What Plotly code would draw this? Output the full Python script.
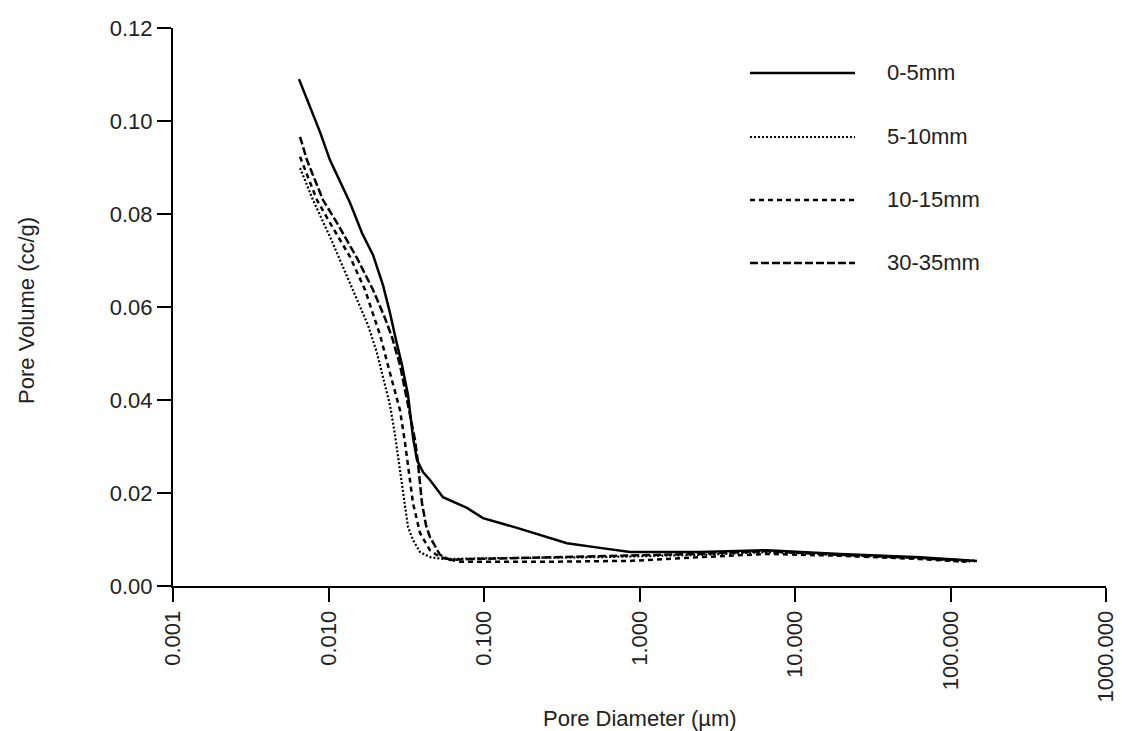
import plotly.graph_objects as go

# ---- data (pore diameter in µm, pore volume in cc/g) ----
d_0_5 = [0.00646, 0.00882, 0.01022, 0.01375, 0.01642, 0.01933, 0.02241, 0.02486, 0.02717, 0.02970,
         0.03245, 0.03495, 0.03708, 0.04053, 0.04494, 0.05448, 0.0777, 0.0985, 0.163, 0.2657,
         0.3418, 0.557, 0.869, 2.449, 6.60, 19.5, 63.7, 148]
v_0_5 = [0.1090, 0.0976, 0.0916, 0.0824, 0.0759, 0.0712, 0.0647, 0.0587, 0.0529, 0.0475,
         0.0411, 0.0320, 0.0271, 0.0245, 0.0228, 0.0191, 0.0168, 0.0146, 0.0125, 0.0103,
         0.0092, 0.0082, 0.0073, 0.0073, 0.0077, 0.0069, 0.0062, 0.0054]

d_5_10 = [0.00656, 0.00795, 0.01022, 0.01239, 0.01526, 0.01795, 0.02050, 0.02275, 0.02486, 0.02677,
          0.02798, 0.02970, 0.03245, 0.03495, 0.03877, 0.04494, 0.05613, 0.1267, 0.557, 2.449,
          6.60, 19.5, 63.7, 133.5]
v_5_10 = [0.0899, 0.0830, 0.0751, 0.0686, 0.0619, 0.0561, 0.0501, 0.0443, 0.0389, 0.0325,
          0.0282, 0.0213, 0.0127, 0.0099, 0.0073, 0.0062, 0.0058, 0.0060, 0.0062, 0.0067,
          0.0073, 0.0067, 0.0060, 0.0052]

d_10_15 = [0.00656, 0.00843, 0.01022, 0.01375, 0.01717, 0.02144, 0.02486, 0.02883, 0.03105, 0.03293,
           0.03495, 0.03877, 0.04494, 0.05212, 0.0701, 0.229, 0.869, 2.449, 6.60, 19.5,
           63.7, 124]
v_10_15 = [0.0923, 0.0830, 0.0781, 0.0708, 0.0637, 0.0540, 0.0458, 0.0378, 0.0308, 0.0249,
           0.0178, 0.0114, 0.0077, 0.0062, 0.0052, 0.0052, 0.0054, 0.0062, 0.0069, 0.0065,
           0.0058, 0.0052]

d_30_35 = [0.00656, 0.00727, 0.00922, 0.01134, 0.01526, 0.01933, 0.02309, 0.02561, 0.02883, 0.03151,
           0.03393, 0.03600, 0.03762, 0.03993, 0.04236, 0.04494, 0.05212, 0.0605, 0.0813, 0.557,
           2.449, 6.60, 19.5, 63.7, 143.7]
v_30_35 = [0.0966, 0.0916, 0.0830, 0.0781, 0.0705, 0.0637, 0.0576, 0.0535, 0.0475, 0.0411,
           0.0357, 0.0314, 0.0265, 0.0178, 0.0131, 0.0105, 0.0067, 0.0056, 0.0058, 0.0065,
           0.0069, 0.0075, 0.0067, 0.0060, 0.0054]

series_names = ["0-5mm", "5-10mm", "10-15mm", "30-35mm"]
x_tickvals = [0.001, 0.01, 0.1, 1, 10, 100, 1000]
x_ticktext = ["0.001", "0.010", "0.100", "1.000", "10.000", "100.000", "1000.000"]
y_tickvals = [0, 0.02, 0.04, 0.06, 0.08, 0.10, 0.12]
y_ticktext = ["0.00", "0.02", "0.04", "0.06", "0.08", "0.10", "0.12"]

FONT = "Liberation Sans, Arial, sans-serif"
TXT = "#222222"
FS = 22
styles = [
    dict(color="black", width=2.5, dash="solid"),
    dict(color="black", width=2.2, dash="2px,2px"),
    dict(color="black", width=2.5, dash="5px,4px"),
    dict(color="black", width=2.5, dash="8px,3px"),
]

fig = go.Figure()
for name, xs, ys, st in zip(series_names, [d_0_5, d_5_10, d_10_15, d_30_35],
                            [v_0_5, v_5_10, v_10_15, v_30_35], styles):
    fig.add_trace(go.Scatter(x=xs, y=ys, mode="lines", name=name, line=st,
                             showlegend=False))

# manual legend (line samples + labels)
leg_y = [0.9194, 0.8047, 0.6918, 0.5789]
for name, st, yy in zip(series_names, styles, leg_y):
    fig.add_shape(type="line", xref="paper", yref="paper", x0=0.6184, x1=0.7310,
                  y0=yy, y1=yy, line=dict(color="black", width=st["width"], dash=st["dash"]))
    fig.add_annotation(xref="paper", yref="paper", x=0.7631, y=yy, text=name,
                       showarrow=False, xanchor="left", yanchor="middle",
                       font=dict(family=FONT, size=FS, color=TXT))

fig.add_annotation(xref="paper", yref="paper", x=0.5005, y=0, yshift=-132,
                   text="Pore Diameter (µm)", showarrow=False,
                   xanchor="center", yanchor="middle",
                   font=dict(family=FONT, size=FS, color=TXT))
fig.add_annotation(xref="paper", yref="paper", x=0, xshift=-146, y=0.493,
                   text="Pore Volume (cc/g)", showarrow=False, textangle=-90,
                   xanchor="center", yanchor="middle",
                   font=dict(family=FONT, size=FS, color=TXT))

fig.update_layout(
    width=1122, height=731,
    margin=dict(l=173, r=16, t=28, b=145),
    paper_bgcolor="white", plot_bgcolor="white",
    font=dict(family=FONT, size=FS, color=TXT),
    showlegend=False,
)
fig.update_xaxes(type="log", range=[-3, 3], tickvals=x_tickvals, ticktext=x_ticktext,
                 tickangle=-90, ticks="outside", ticklen=14, tickwidth=2, tickcolor="black",
                 showline=True, linecolor="black", linewidth=2, showgrid=False,
                 zeroline=False, automargin=False,
                 tickfont=dict(family=FONT, size=FS, color=TXT))
fig.update_yaxes(range=[0, 0.12], tickvals=y_tickvals, ticktext=y_ticktext,
                 ticks="outside", ticklen=14, tickwidth=2, tickcolor="black",
                 showline=True, linecolor="black", linewidth=2, showgrid=False,
                 zeroline=False, automargin=False,
                 tickfont=dict(family=FONT, size=FS, color=TXT))

fig.write_html("out.html")
